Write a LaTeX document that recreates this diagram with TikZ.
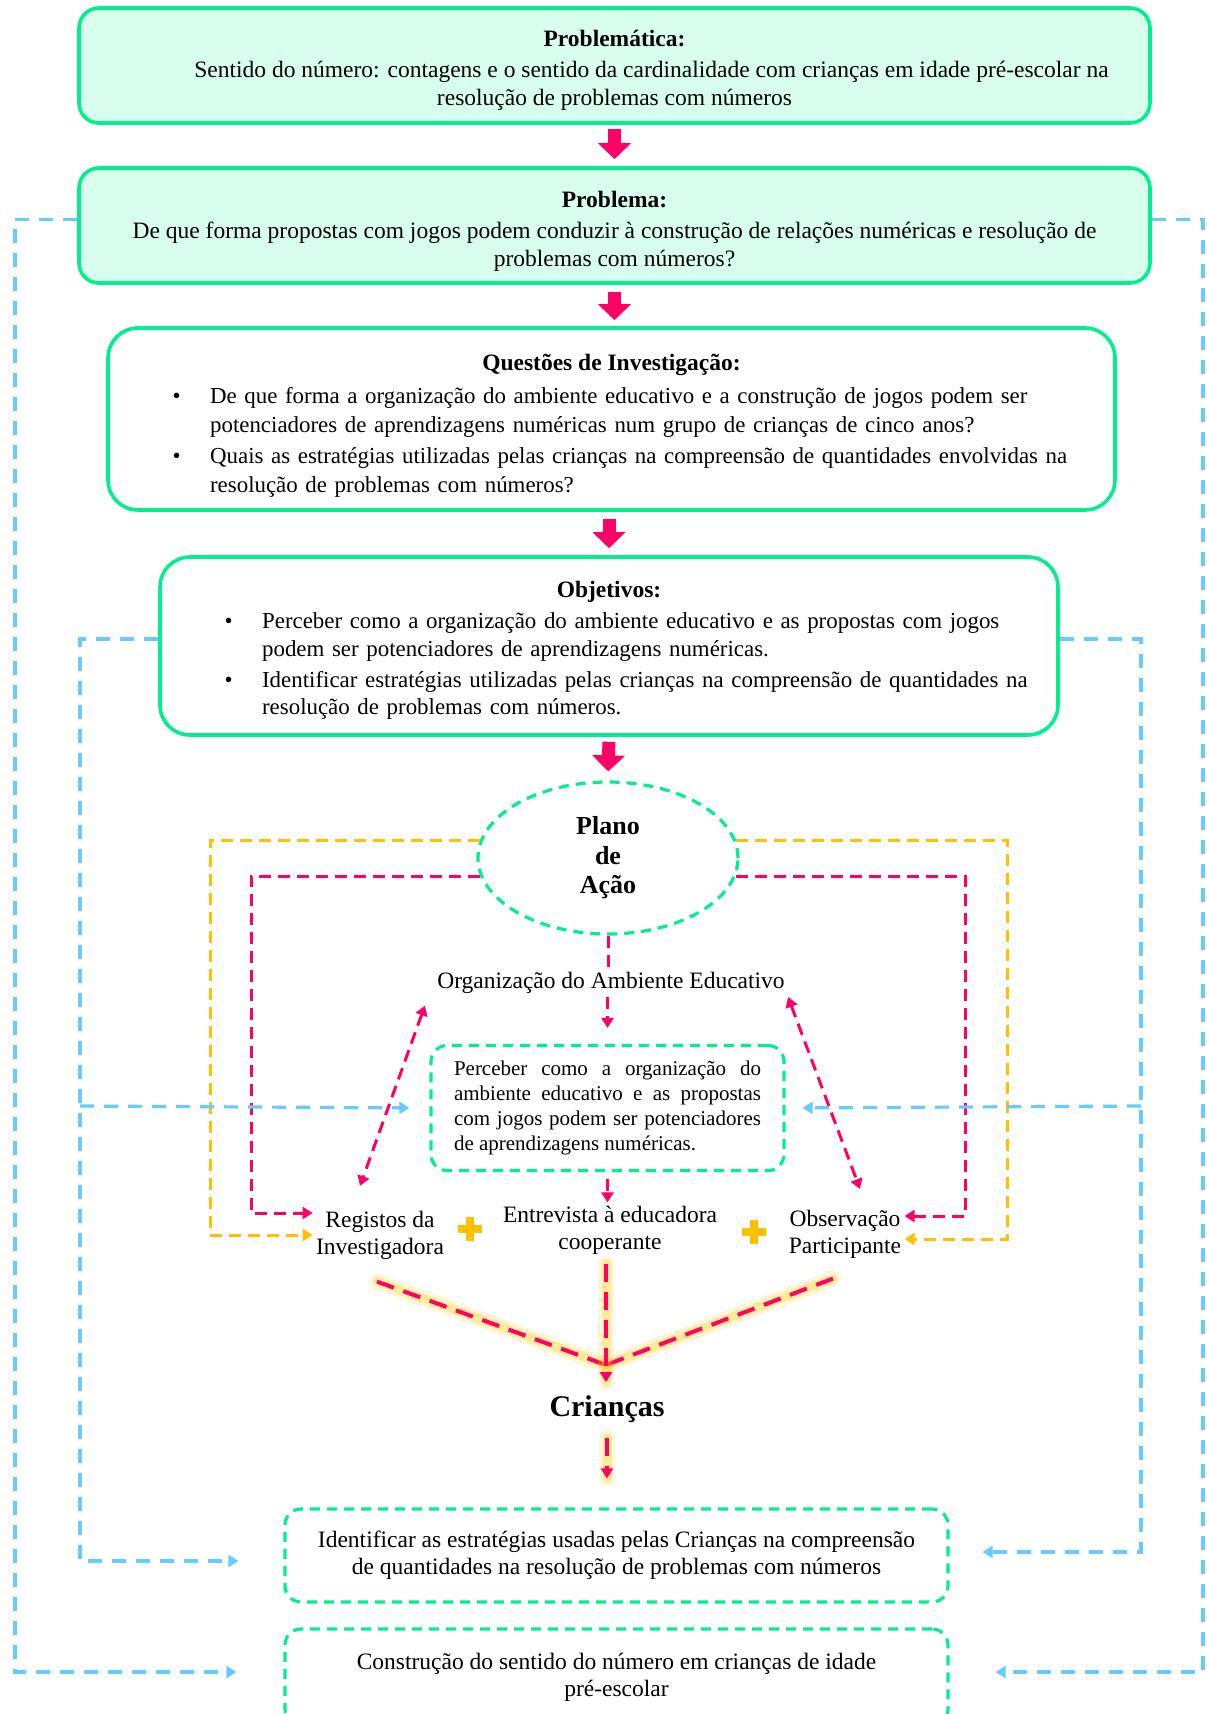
\documentclass[tikz,border=0pt]{standalone}
\usepackage{fontspec}
\setmainfont{Liberation Serif}
\usepackage{enumitem}
\usetikzlibrary{positioning, shapes.geometric, arrows.meta}

\definecolor{verdementa}{RGB}{0,240,140}
\definecolor{fundomenta}{RGB}{216,255,238}
\definecolor{rosa}{RGB}{255,0,102}
\definecolor{laranja}{RGB}{255,192,0}
\definecolor{azulclaro}{RGB}{102,204,255}
\definecolor{brilho}{RGB}{255,204,0}

\newlist{topicos}{itemize}{1}
\setlist[topicos]{label=\textbullet, leftmargin=19.75pt, labelsep=14.75pt, topsep=0pt, partopsep=0pt, itemsep=1pt, parsep=0pt, before=\raggedright}

\begin{document}
\begin{tikzpicture}[
        x=0.5pt, y=-0.5pt,
        caixa/.style={rectangle, draw=verdementa, line width=1.8pt, rounded corners=10pt, fill=fundomenta, minimum width=535.5pt, minimum height=57.5pt, inner sep=0pt, align=center, font=\fontsize{11.75}{14.3}\selectfont},
        caixagrande/.style={rectangle, draw=verdementa, line width=1.8pt, rounded corners=15pt},
        tracejada/.style={rectangle, draw=verdementa, line width=1.6pt, dash pattern=on 5pt off 3.5pt, rounded corners=8pt, inner sep=0pt},
        titulo/.style={font=\bfseries\fontsize{11.75}{14}\selectfont, inner sep=0pt},
        lista/.style={anchor=north west, align=left, inner sep=0pt, font=\fontsize{11.45}{14.5}\selectfont},
        texto/.style={align=center, inner sep=1.5pt, font=\fontsize{11.75}{13.5}\selectfont},
        seta/.style={draw=rosa, line width=6.5pt, -{Triangle[width=16pt,length=8pt]}},
        linhavermelha/.style={draw=rosa, line width=1.5pt, dash pattern=on 6pt off 3.5pt},
        linhalaranja/.style={draw=laranja, line width=1.5pt, dash pattern=on 6pt off 3.5pt},
        linhaazul/.style={draw=azulclaro, line width=1.6pt, dash pattern=on 7pt off 5pt},
        ponta/.style={-{Triangle[width=6pt,length=5pt]}},
        pontas/.style={{Triangle[width=6pt,length=5pt]}-{Triangle[width=6pt,length=5pt]}},
        brilhante/.style={preaction={draw=brilho, draw opacity=.14, line width=8pt, solid, line cap=round, -}, preaction={draw=brilho, draw opacity=.3, line width=4.5pt, solid, line cap=round, -}},
        linhabrilho/.style={linhavermelha, line width=2pt, dash pattern=on 9pt off 5pt, brilhante},
        mais/.style={draw=laranja, line width=4pt}
    ]

    \path[use as bounding box, fill=white] (0,0) rectangle (1206,1714);

    % CAIXAS DE CIMA
    \node[caixa] (problematica) at (614.5,65.5) {\rule{0pt}{13pt}\textbf{Problemática:}\\[1pt]\hspace*{37pt}Sentido do número: contagens e o sentido da cardinalidade com crianças em idade pré-escolar na\\resolução de problemas com números};
    \node[caixa] (problema) at (614.5,225.5) {\rule{0pt}{14pt}\textbf{Problema:}\\[1pt]De que forma propostas com jogos podem conduzir à construção de relações numéricas e resolução de\\problemas com números?};

    % QUESTÕES
    \node[caixagrande, minimum width=503.5pt, minimum height=91pt] (questoes) at (611.5,419) {};
    \node[titulo] (questoestit) at ([yshift=-19.2pt]questoes.north) {Questões de Investigação:};
    \node[lista, text width=470pt] (questoeslista) at ([xshift=32pt,yshift=-23.75pt]questoes.north west) {%
        \begin{topicos}
            \item De que forma a organização do ambiente educativo e a construção de jogos podem ser\newline potenciadores de aprendizagens numéricas num grupo de crianças de cinco anos?
            \item Quais as estratégias utilizadas pelas crianças na compreensão de quantidades envolvidas na\newline resolução de problemas com números?
        \end{topicos}};

    % OBJETIVOS
    \node[caixagrande, minimum width=449pt, minimum height=89pt] (objetivos) at (609,646) {};
    \node[titulo] (objetivostit) at ([yshift=-18.2pt]objetivos.north) {Objetivos:};
    \node[lista, text width=420pt, font=\fontsize{11.45}{13.6}\selectfont] (objetivoslista) at ([xshift=32pt,yshift=-23pt]objetivos.north west) {%
        \begin{topicos}[itemsep=2pt]
            \item Perceber como a organização do ambiente educativo e as propostas com jogos\newline podem ser potenciadores de aprendizagens numéricas.
            \item Identificar estratégias utilizadas pelas crianças na compreensão de quantidades na\newline resolução de problemas com números.
        \end{topicos}};

    % PLANO DE AÇÃO
    \node[ellipse, draw=verdementa, line width=1.6pt, dash pattern=on 5pt off 3.5pt, minimum width=130pt, minimum height=76pt, inner sep=0pt, align=center, font=\bfseries\fontsize{13}{14.75}\selectfont] (plano) at (608,858) {Plano\\de\\Ação};
    \node[texto] (organizacao) at (611,983) {Organização do Ambiente Educativo};
    \node[tracejada, minimum width=176.5pt, minimum height=62.5pt, text width=153.5pt, align=justify, font=\fontsize{10.5}{12.6}\selectfont] (perceber) at (607.5,1108) {Perceber como a organização do\linebreak ambiente educativo e as propostas\linebreak com jogos podem ser potenciadores\linebreak de aprendizagens numéricas.};

    \node[texto] (registos) at (380,1235) {Registos da\\Investigadora};
    \node[texto] (entrevista) at (610,1230) {Entrevista à educadora\\cooperante};
    \node[texto] (observacao) at (845,1234) {Observação\\Participante};
    \coordinate (mais1) at (470,1229);
    \coordinate (mais2) at (754,1232);
    \draw[mais] ([xshift=-6pt]mais1) -- ([xshift=6pt]mais1) ([yshift=-6pt]mais1) -- ([yshift=6pt]mais1);
    \draw[mais] ([xshift=-6pt]mais2) -- ([xshift=6pt]mais2) ([yshift=-6pt]mais2) -- ([yshift=6pt]mais2);

    \node[font=\bfseries\fontsize{15}{18}\selectfont, inner sep=2pt] (criancas) at (607,1409) {Crianças};

    % CAIXAS DE BAIXO
    \node[tracejada, minimum width=331.5pt, minimum height=46.5pt, align=center, font=\fontsize{11.75}{13.5}\selectfont] (identificar) at (616.5,1555.5) {Identificar as estratégias usadas pelas Crianças na compreensão\\de quantidades na resolução de problemas com números};
    \node[tracejada, minimum width=331.5pt, minimum height=48pt, align=center, font=\fontsize{11.75}{13.5}\selectfont] (construcao) at (616.5,1677) {Construção do sentido do número em crianças de idade\\pré-escolar};

    % Setas grossas
    \draw[seta, shorten <=2pt, shorten >=3.5pt] (problematica.south) -- (problema.north);
    \draw[seta, shorten <=3.5pt, shorten >=3pt] (problema.south) -- (problema.south |- questoes.north);
    \draw[seta, shorten <=3.5pt, shorten >=3.5pt] (objetivos.north |- questoes.south) -- (objetivos.north);
    \draw[seta, shorten <=2.5pt, shorten >=4.5pt] (objetivos.south) -- (plano.north);

    % Ligações do plano
    \draw[linhalaranja, ponta] (plano.172) -| (210,1235) -- (registos.west);
    \draw[linhavermelha, ponta] (plano.188) -| (251,1213) -- ([yshift=11pt]registos.west);
    \draw[linhalaranja, ponta] (plano.8) -| (1007,1239) -- ([yshift=-2.5pt]observacao.east);
    \draw[linhavermelha, ponta] (plano.352) -| (965,1216) -- ([yshift=9pt]observacao.east);
    \draw[linhavermelha] (plano.south) -- (plano.south |- organizacao.north);
    \draw[linhavermelha, ponta, shorten >=8pt] (perceber.north |- organizacao.south) -- (perceber.north);
    \draw[linhavermelha, ponta, shorten <=3.5pt] (perceber.south) -- (perceber.south |- entrevista.north);
    \draw[linhavermelha, pontas] ([xshift=-4.5pt,yshift=-4.25pt]organizacao.south west) -- ([xshift=-10pt,yshift=10.75pt]registos.north);
    \draw[linhavermelha, pontas] (organizacao.south east) -- ([xshift=7.5pt,yshift=8.75pt]observacao.north);

    % Linhas com brilho
    \coordinate (encontro) at (606,1365);
    \draw[linhabrilho] ([xshift=-1.5pt,yshift=-9.5pt]registos.south) -- (encontro);
    \draw[linhabrilho] ([xshift=-6pt,yshift=-8.5pt]observacao.south) -- (encontro);
    \draw[linhabrilho, ponta, shorten <=3pt, shorten >=4.5pt] (entrevista.south -| encontro) -- (criancas.north -| encontro);
    \draw[linhabrilho, ponta, shorten <=5.5pt, shorten >=14.5pt] (criancas.south) -- (criancas.south |- identificar.north);

    % Linhas azuis
    \draw[linhaazul, ponta, shorten >=23.5pt] ([yshift=3pt]problema.west) -| (15,1672) -- ([yshift=2.5pt]construcao.west);
    \draw[linhaazul, ponta, shorten >=23pt] ([yshift=3pt]problema.east) -| (1203,1672) -- ([yshift=2.5pt]construcao.east);
    \draw[linhaazul, ponta, shorten >=22.5pt] ([yshift=3.5pt]objetivos.west) -| (80,1561) -- ([yshift=-2.75pt]identificar.west);
    \draw[linhaazul, ponta, shorten >=16.5pt] ([yshift=3.5pt]objetivos.east) -| (1141,1552) -- ([yshift=1.75pt]identificar.east);
    \coordinate (ramoesq) at (80,1106);
    \coordinate (ramodir) at (1141,1106);
    \draw[linhaazul, ponta, shorten >=10pt] (ramoesq) -- (perceber.west);
    \draw[linhaazul, ponta, shorten >=8.5pt] (ramodir) -- (perceber.east);
\end{tikzpicture}
\end{document}
